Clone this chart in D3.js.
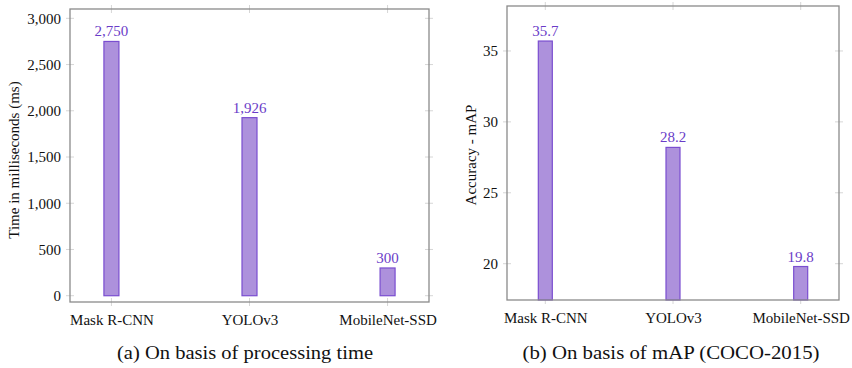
<!DOCTYPE html>
<html>
<head>
<meta charset="utf-8">
<script src="https://cdn.jsdelivr.net/npm/d3@7"></script>
<style>
  html, body { margin: 0; padding: 0; background: #fff; }
  svg { display: block; }
</style>
</head>
<body>
<svg id="chart" width="852" height="368"></svg>
<script>
// Detector names shared by both panels
const models = ["Mask R-CNN", "YOLOv3", "MobileNet-SSD"];

// Panel (a): processing time per image, in ms
const timeMs = [2750, 1926, 300];
const timeTicks = [0, 500, 1000, 1500, 2000, 2500, 3000];

// Panel (b): accuracy on COCO-2015, mAP
const mapScore = [35.7, 28.2, 19.8];
const mapTicks = [20, 25, 30, 35];

const captions = ["(a) On basis of processing time", "(b) On basis of mAP (COCO-2015)"];

const C = {
  fill: "#ad91dc",
  stroke: "#7a4ed0",
  label: "#6a3cc8",
  frame: "#8a8a8a",
  tick: "#d6d6d6",
  text: "#111"
};
const serif = "'Liberation Serif', 'Times New Roman', serif";

const svg = d3.select("#chart");

function panel(opt) {
  const g = svg.append("g");
  const x = d3.scalePoint().domain(models).range([opt.x0, opt.x1]).padding(0.3);
  const y = d3.scaleLinear().domain(opt.yDomain).range([opt.y1, opt.y0]);

  // light tick marks on all four sides of the frame
  const tl = 4;
  g.selectAll("line.ytl").data(opt.ticks).join("line")
    .attr("x1", opt.x0 - tl).attr("x2", opt.x0 + tl)
    .attr("y1", d => y(d)).attr("y2", d => y(d))
    .attr("stroke", C.tick).attr("stroke-width", 1);
  g.selectAll("line.ytr").data(opt.ticks).join("line")
    .attr("x1", opt.x1 - tl).attr("x2", opt.x1 + tl)
    .attr("y1", d => y(d)).attr("y2", d => y(d))
    .attr("stroke", C.tick).attr("stroke-width", 1);
  g.selectAll("line.xtb").data(models).join("line")
    .attr("x1", d => x(d)).attr("x2", d => x(d))
    .attr("y1", opt.y1 - tl).attr("y2", opt.y1 + tl)
    .attr("stroke", C.tick).attr("stroke-width", 1);
  g.selectAll("line.xtt").data(models).join("line")
    .attr("x1", d => x(d)).attr("x2", d => x(d))
    .attr("y1", opt.y0 - tl).attr("y2", opt.y0 + tl)
    .attr("stroke", C.tick).attr("stroke-width", 1);

  // bars
  const bw = opt.barW;
  g.selectAll("rect.bar").data(opt.values).join("rect")
    .attr("x", (d, i) => x(models[i]) - bw / 2)
    .attr("y", d => y(d))
    .attr("width", bw)
    .attr("height", d => Math.max(0, (opt.barBase !== undefined ? y(opt.barBase) : opt.y1) - y(d)))
    .attr("fill", C.fill)
    .attr("stroke", C.stroke)
    .attr("stroke-width", 1.2);

  // value labels above bars
  g.selectAll("text.val").data(opt.values).join("text")
    .attr("x", (d, i) => x(models[i]))
    .attr("y", d => y(d) - 5)
    .attr("text-anchor", "middle")
    .attr("font-family", serif)
    .attr("font-size", 15)
    .attr("fill", C.label)
    .text(opt.fmt);

  // frame
  g.append("rect")
    .attr("x", opt.x0).attr("y", opt.y0)
    .attr("width", opt.x1 - opt.x0).attr("height", opt.y1 - opt.y0)
    .attr("fill", "none").attr("stroke", C.frame).attr("stroke-width", 1.3);

  // y tick labels
  const ya = d3.axisLeft(y).tickValues(opt.ticks).tickFormat(opt.tickFmt).tickSize(0).tickPadding(9);
  const yg = g.append("g").attr("transform", `translate(${opt.x0},0)`).call(ya);
  yg.select(".domain").remove();
  yg.selectAll("text").attr("font-family", serif).attr("font-size", 15).attr("fill", C.text);

  // x category labels
  const xa = d3.axisBottom(x).tickSize(0).tickPadding(12);
  const xg = g.append("g").attr("transform", `translate(0,${opt.y1})`).call(xa);
  xg.select(".domain").remove();
  xg.selectAll("text").attr("font-family", serif).attr("font-size", 15).attr("fill", C.text);

  // y axis title
  g.append("text")
    .attr("transform", `translate(${opt.titleX},${opt.titleY}) rotate(-90)`)
    .attr("text-anchor", "middle")
    .attr("font-family", serif)
    .attr("font-size", 15)
    .attr("fill", C.text)
    .text(opt.title);

  // caption
  g.append("text")
    .attr("x", opt.capX).attr("y", 359)
    .attr("text-anchor", "middle")
    .attr("font-family", serif)
    .attr("font-size", 19)
    .attr("fill", C.text)
    .attr("textLength", opt.capW)
    .attr("lengthAdjust", "spacingAndGlyphs")
    .text(opt.caption);
}

panel({
  x0: 70, x1: 429, y0: 9, y1: 302,
  yDomain: [-68, 3101],
  barBase: 0,
  values: timeMs,
  ticks: timeTicks,
  tickFmt: d3.format(","),
  fmt: d3.format(","),
  barW: 15,
  title: "Time in milliseconds (ms)",
  titleX: 19, titleY: 160,
  caption: captions[0], capX: 245, capW: 256
});

panel({
  x0: 507, x1: 839, y0: 6, y1: 300,
  yDomain: [17.44, 38.17],
  values: mapScore,
  ticks: mapTicks,
  tickFmt: d3.format("d"),
  fmt: d3.format(".1f"),
  barW: 14,
  title: "Accuracy - mAP",
  titleX: 476, titleY: 155,
  caption: captions[1], capX: 671, capW: 297
});
</script>
</body>
</html>
